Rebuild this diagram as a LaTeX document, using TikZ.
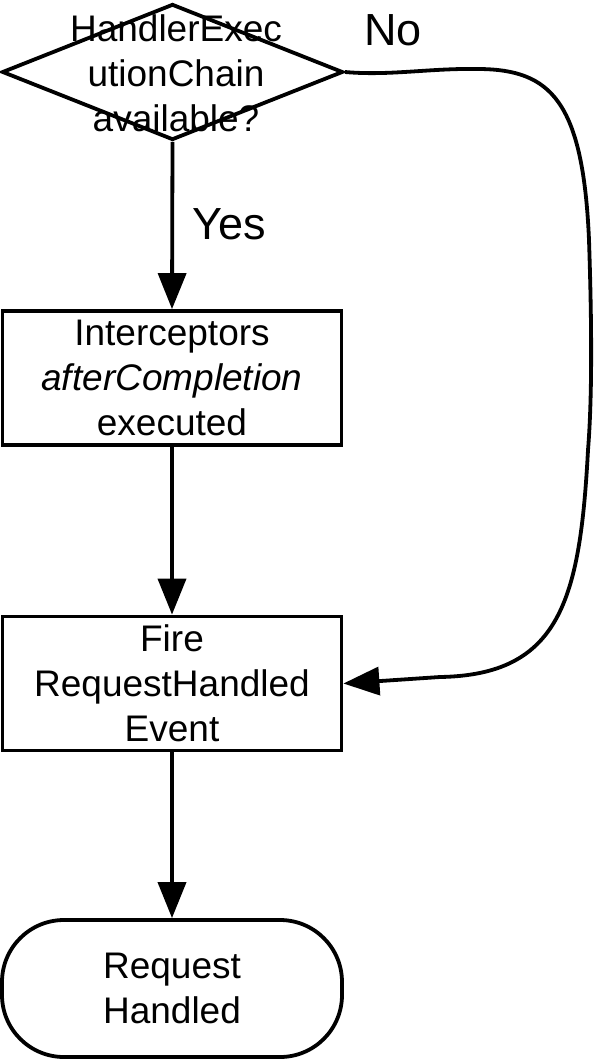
\documentclass[tikz,border=0pt]{standalone}
\usepackage{fontspec}
\setmainfont{Liberation Sans}
\usetikzlibrary{shapes.geometric,arrows.meta}
\begin{document}
\begin{tikzpicture}[x=1pt,y=-1pt,
  every node/.style={font=\fontsize{37}{45}\selectfont},
  line width=3.8pt,
  proc/.style={draw, rectangle, minimum width=339pt, minimum height=134pt, inner sep=0pt, align=center},
  term/.style={draw, rectangle, rounded corners=62pt, minimum width=340pt, minimum height=137pt, inner sep=0pt, align=center},
  dec/.style={draw, diamond, minimum width=341pt, minimum height=136pt, inner sep=0pt},
  txt/.style={align=center, inner sep=0pt},
  flow/.style={-{Triangle[length=36pt,width=28pt]}, line width=3.8pt},
  lbl/.style={inner sep=0pt, font=\fontsize{45}{50}\selectfont}
]
\useasboundingbox (0,0) rectangle (596,1059);
\node[dec] (dia) at (172.5,72) {};
\node[txt] (diatext) at (176,73) {HandlerExec\\utionChain\\available?};
\node[proc] (box1) at (172,378) {Interceptors\\\textit{afterCompletion}\\executed};
\node[proc] (box2) at (172,683.5) {Fire\\RequestHandled\\Event};
\node[term] (term) at (172,988.5) {Request\\Handled};
\draw[flow] (dia.south) -- node[lbl, pos=0.49, right=18pt] (yes) {Yes} (box1.north);
\draw[flow] (box1.south) -- (box2.north);
\draw[flow] (box2.south) -- (term.north);
\node[lbl] (no) at (393,30) {No};
\draw[flow] (dia.east) .. controls (390,76) and (430,68) .. (480,69)
  .. controls (550,70) and (583,100) .. (589,240)
  .. controls (592,330) and (592,400) .. (588,450)
  .. controls (580,600) and (560,675) .. (440,677) -- (box2.east);
\end{tikzpicture}
\end{document}
